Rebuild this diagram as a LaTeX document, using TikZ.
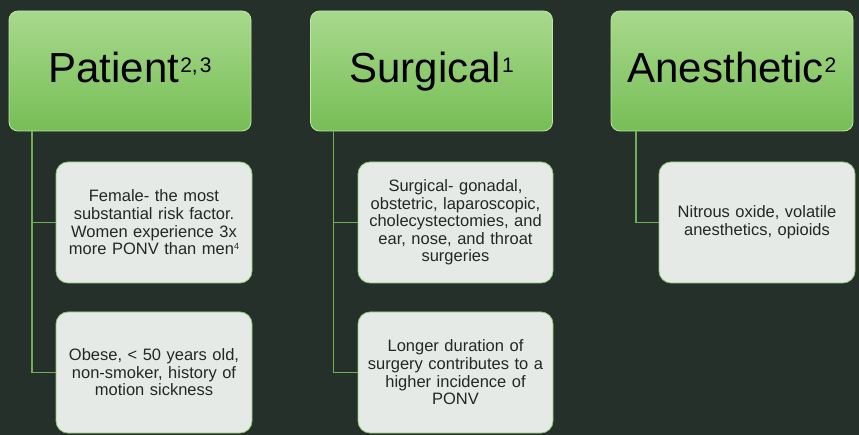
\documentclass[tikz,border=0pt]{standalone}
\usepackage{fontspec}
\setmainfont{Liberation Sans}
\definecolor{bgc}{RGB}{37,48,42}
\definecolor{htop}{RGB}{168,217,140}
\definecolor{hbot}{RGB}{118,190,86}
\definecolor{hedge}{RGB}{190,230,165}
\definecolor{cfill}{RGB}{229,234,230}
\definecolor{cedge}{RGB}{140,200,110}
\definecolor{conc}{RGB}{112,176,84}
\newcommand\hsup[1]{\kern1pt\raisebox{10pt}{\fontsize{21}{21}\selectfont #1}}
\newcommand\ssup[1]{\raisebox{5pt}{\fontsize{9}{9}\selectfont #1}}
\tikzset{
  headbox/.style={rectangle, rounded corners=9pt, top color=htop, bottom color=hbot,
    draw=hedge, line width=0.8pt, minimum width=242pt, minimum height=120pt,
    text height=28pt, text depth=4pt,
    inner sep=0pt, font=\fontsize{42}{46}\selectfont, text=black},
  childbox/.style={rectangle, rounded corners=12pt, fill=cfill, draw=cedge,
    line width=0.8pt, minimum width=196pt, minimum height=121pt,
    text width=186pt, align=center, inner sep=0pt,
    font=\fontsize{16.5}{17.6}\selectfont, text=black!85},
  conn/.style={draw=conc, line width=1.4pt}
}
\begin{document}
\begin{tikzpicture}[x=1pt,y=-1pt]
\useasboundingbox (0,0) rectangle (859,435);
\fill[bgc] (0,0) rectangle (859,435);

\node[headbox] (pat) at (130,71) {Patient\hsup{2,\kern2pt3}};
\node[headbox] (sur) at (431.5,71) {Surgical\hsup{1}};
\node[headbox] (ane) at (732,71) {Anesthetic\hsup{2}};

\node[childbox] (pc1) at (154,222.5) {Female- the most\\substantial risk factor.\\Women experience 3x\\more PONV than men\ssup{4}};
\node[childbox] (pc2) at (154,372.5) {Obese, < 50 years old,\\non-smoker, history of\\motion sickness};
\node[childbox, minimum width=195pt] (sc1) at (455.5,222.5) {Surgical- gonadal,\\obstetric, laparoscopic,\\cholecystectomies, and\\ear, nose, and throat\\surgeries};
\node[childbox, minimum width=195pt] (sc2) at (455.5,372.5) {Longer duration of\\surgery contributes to a\\higher incidence of\\PONV};
\node[childbox] (ac1) at (757,222.5) {Nitrous oxide, volatile\\anesthetics, opioids};

\coordinate (tp) at (32,131.5);
\coordinate (ts) at (333.5,131.5);
\coordinate (ta) at (636,131.5);

\draw[conn] (tp) |- (pc1.west);
\draw[conn] (tp) |- (pc2.west);
\draw[conn] (ts) |- (sc1.west);
\draw[conn] (ts) |- (sc2.west);
\draw[conn] (ta) |- (ac1.west);
\end{tikzpicture}
\end{document}
